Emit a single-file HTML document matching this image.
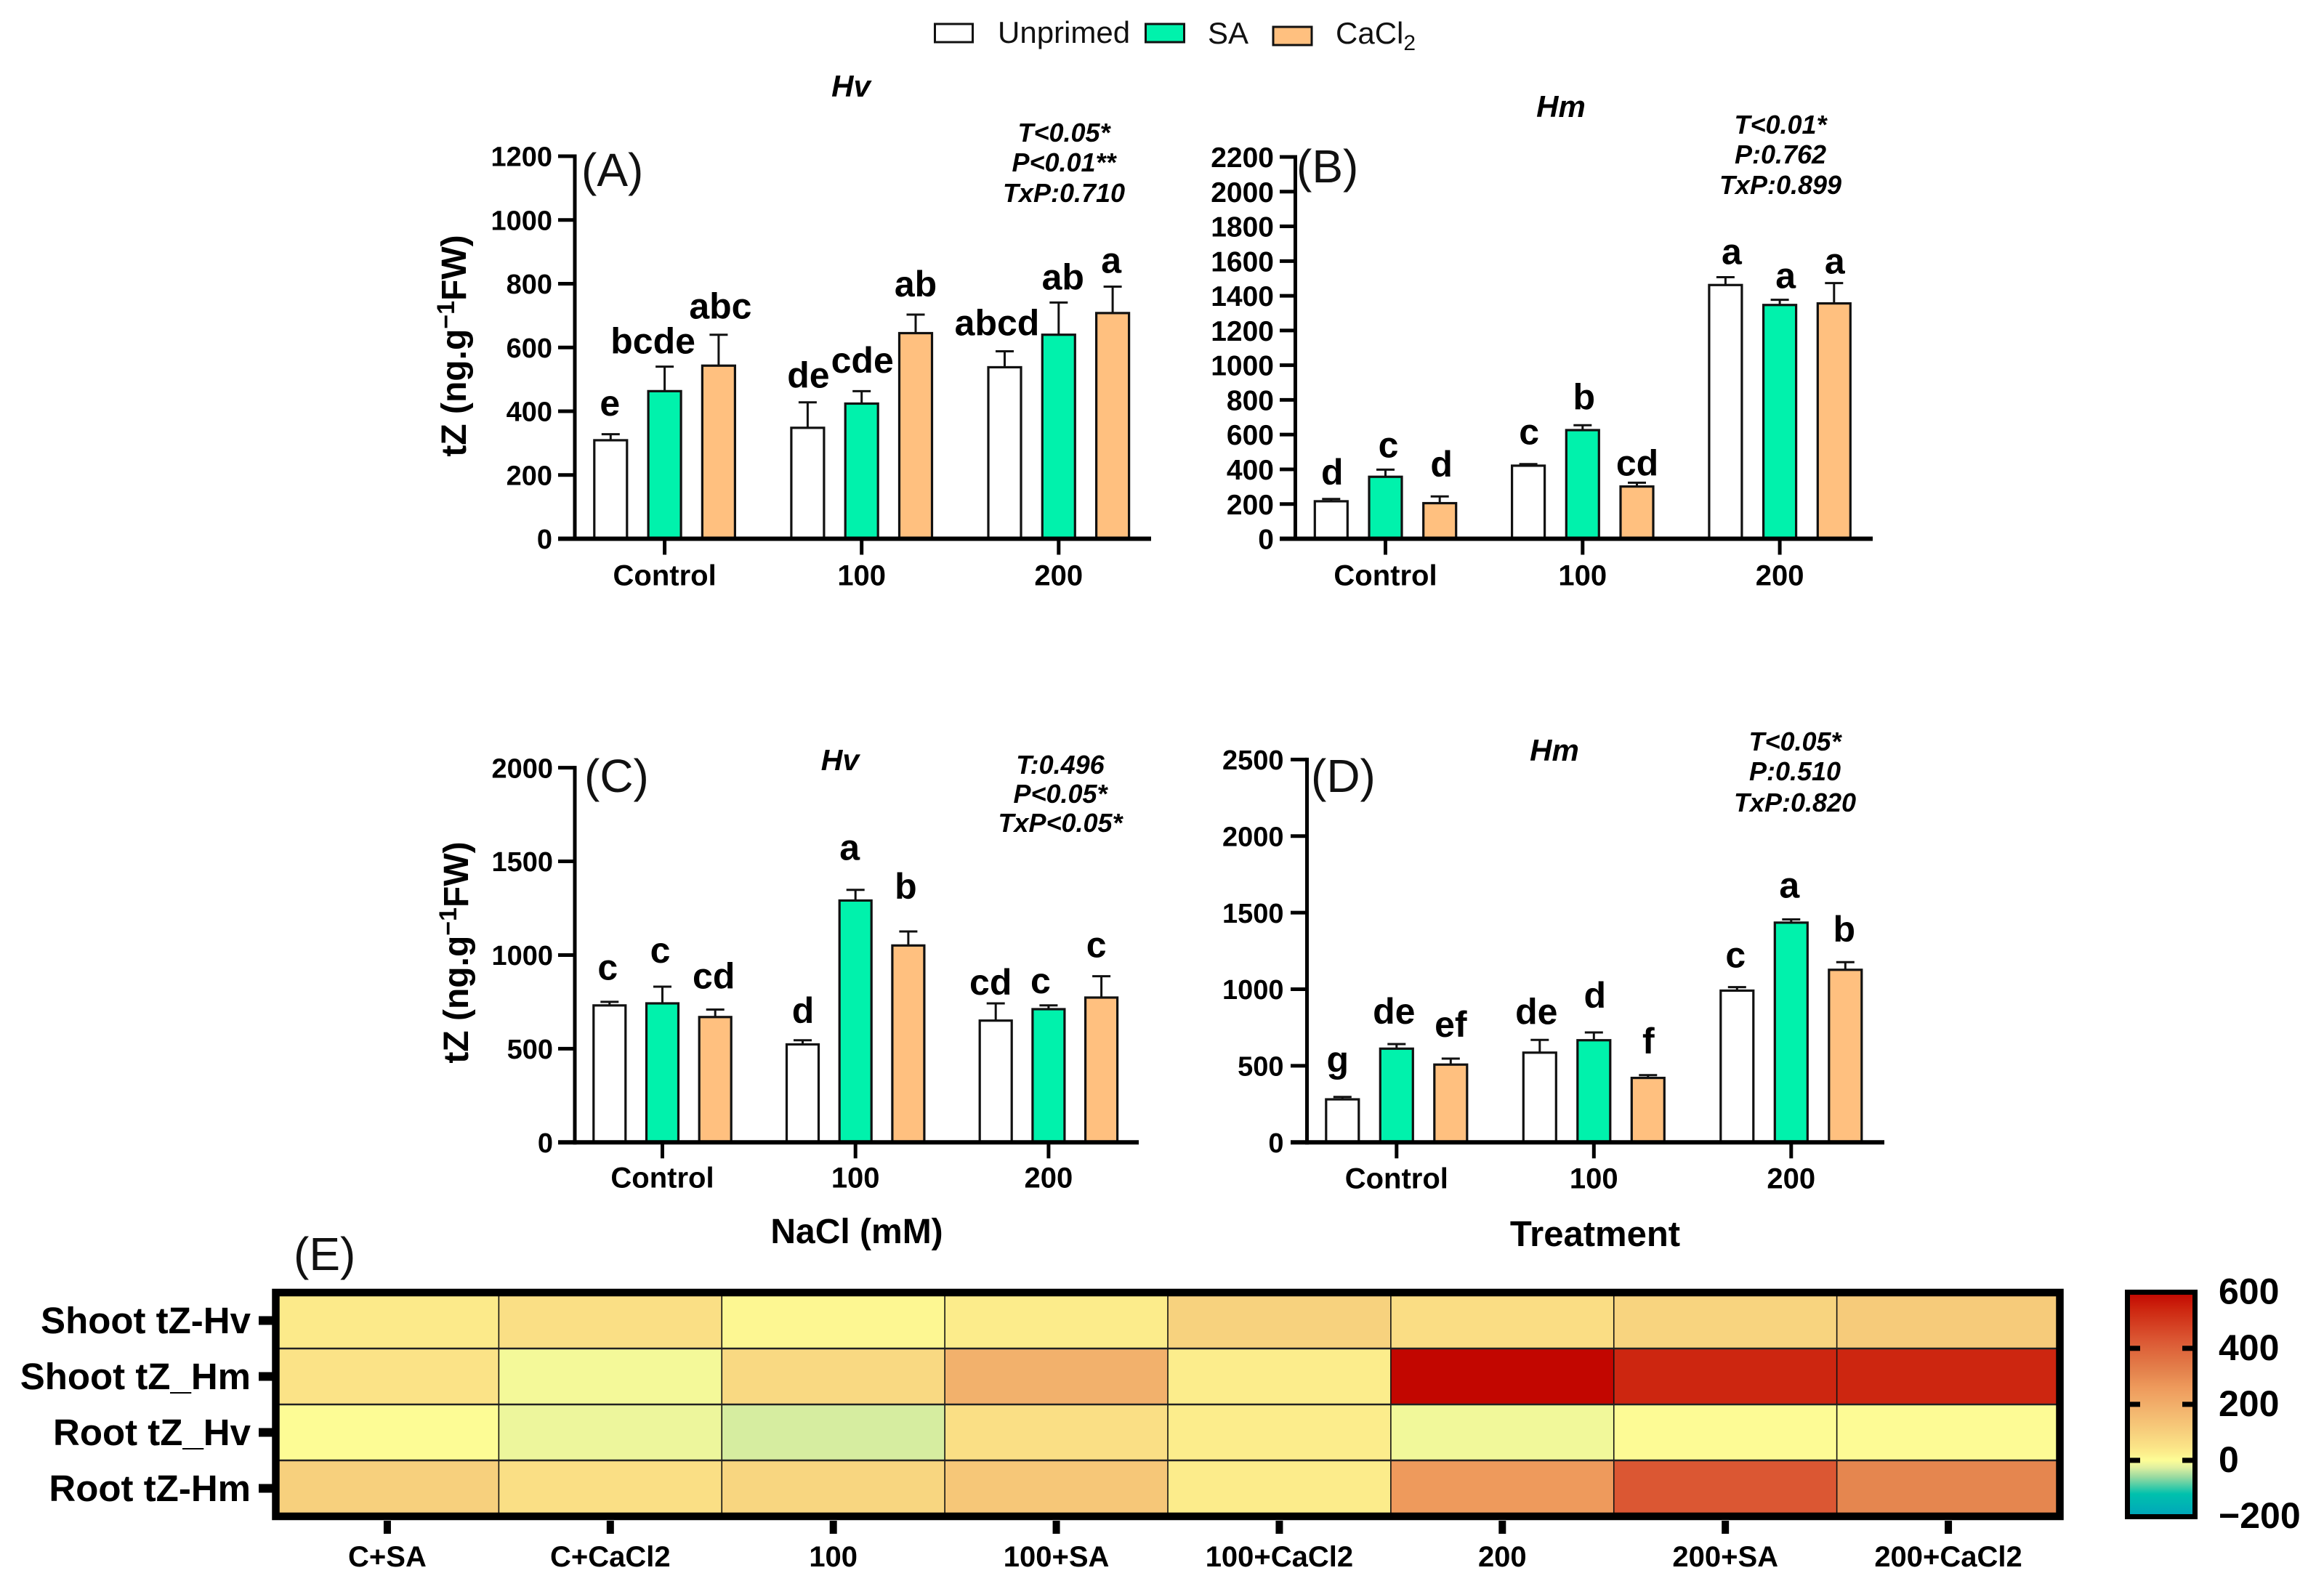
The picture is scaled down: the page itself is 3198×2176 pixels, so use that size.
<!DOCTYPE html>
<html lang="en">
<head>
<meta charset="utf-8">
<title>tZ content bar charts and heatmap</title>
<style>
html,body{margin:0;padding:0;background:#fff;}
svg{display:block;font-family:"Liberation Sans",Arial,sans-serif;}
</style>
</head>
<body>
<svg id="figure" xmlns="http://www.w3.org/2000/svg" width="3198" height="2176" viewBox="0 0 3198 2176">
  <rect x="0" y="0" width="3198" height="2176" fill="#ffffff"/>

  <g>
    <rect x="1286.5" y="33" width="52" height="25" fill="#ffffff" stroke="#111" stroke-width="3"/>
    <text x="1373" y="59" font-size="42" fill="#111">Unprimed</text>
    <rect x="1576.5" y="33" width="53" height="25" fill="#00f2ac" stroke="#111" stroke-width="3"/>
    <text x="1662" y="60" font-size="42" fill="#111">SA</text>
    <rect x="1752" y="37" width="53" height="25" fill="#ffc07f" stroke="#111" stroke-width="3"/>
    <text x="1838" y="60" font-size="42" fill="#111">CaCl<tspan dy="9" font-size="30">2</tspan></text>
  </g>

  <g font-weight="bold" font-style="italic" fill="#000" text-anchor="middle">
    <text x="1171" y="133" font-size="42">Hv</text>
    <text x="2148" y="161" font-size="42">Hm</text>
    <text x="1156" y="1060" font-size="41">Hv</text>
    <text x="2139" y="1047" font-size="42">Hm</text>
  </g>

  <g font-weight="bold" font-style="italic" font-size="36" fill="#000" text-anchor="middle">
    <text x="1464" y="195">T&lt;0.05*</text>
    <text x="1464" y="236">P&lt;0.01**</text>
    <text x="1464" y="278">TxP:0.710</text>
    <text x="2450" y="184">T&lt;0.01*</text>
    <text x="2450" y="225">P:0.762</text>
    <text x="2450" y="267">TxP:0.899</text>
    <text x="1459" y="1065">T:0.496</text>
    <text x="1459" y="1105">P&lt;0.05*</text>
    <text x="1459" y="1145">TxP&lt;0.05*</text>
    <text x="2470" y="1033">T&lt;0.05*</text>
    <text x="2470" y="1074">P:0.510</text>
    <text x="2470" y="1117">TxP:0.820</text>
  </g>

  <g font-size="64" fill="#111">
    <text x="800" y="256">(A)</text>
    <text x="1784" y="251">(B)</text>
    <text x="804" y="1090">(C)</text>
    <text x="1804" y="1090">(D)</text>
    <text x="404" y="1748">(E)</text>
  </g>

  <g font-weight="bold" fill="#000">
    <text transform="translate(641,476) rotate(-90)" text-anchor="middle" font-size="48">tZ (ng.g<tspan dy="-16" font-size="34">−1</tspan><tspan dy="16">FW)</tspan></text>
    <text transform="translate(644,1311) rotate(-90)" text-anchor="middle" font-size="48">tZ (ng.g<tspan dy="-16" font-size="34">−1</tspan><tspan dy="16">FW)</tspan></text>
    <text x="1179" y="1711" text-anchor="middle" font-size="48">NaCl (mM)</text>
    <text x="2195" y="1715" text-anchor="middle" font-size="49">Treatment</text>
  </g>

  <defs>
    <linearGradient id="colorbar-gradient" x1="0" y1="0" x2="0" y2="1"></linearGradient>
  </defs>
  <g id="charts"></g>
  <g id="heatmap"></g>
  <g id="colorbar"></g>
</svg>

<script>
// ---- shared categories ----
const categories = ["Control", "100", "200"];

// ---- panel A ----
const aUnprimed = [309, 348, 538];
const aSA = [463, 424, 640];
const aCaCl2 = [543, 645, 708];
const aUnprimedErr = [19, 80, 50];
const aSAErr = [77, 39, 101];
const aCaCl2Err = [97, 58, 83];
const aLetters = ["e", "bcde", "abc", "de", "cde", "ab", "abcd", "ab", "a"];
const aTicks = [0, 200, 400, 600, 800, 1000, 1200];

// ---- panel B ----
const bUnprimed = [216, 421, 1462];
const bSA = [357, 626, 1347];
const bCaCl2 = [205, 301, 1356];
const bUnprimedErr = [13, 9, 45];
const bSAErr = [41, 28, 30];
const bCaCl2Err = [39, 22, 117];
const bLetters = ["d", "c", "d", "c", "b", "cd", "a", "a", "a"];
const bTicks = [0, 200, 400, 600, 800, 1000, 1200, 1400, 1600, 1800, 2000, 2200];

// ---- panel C ----
const cUnprimed = [731, 523, 650];
const cSA = [742, 1291, 711];
const cCaCl2 = [669, 1051, 773];
const cUnprimedErr = [19, 22, 92];
const cSAErr = [89, 57, 20];
const cCaCl2Err = [40, 75, 114];
const cLetters = ["c", "c", "cd", "d", "a", "b", "cd", "c", "c"];
const cTicks = [0, 500, 1000, 1500, 2000];

// ---- panel D ----
const dUnprimed = [281, 586, 991];
const dSA = [612, 667, 1435];
const dCaCl2 = [508, 421, 1127];
const dUnprimedErr = [16, 83, 23];
const dSAErr = [30, 51, 21];
const dCaCl2Err = [39, 18, 50];
const dLetters = ["g", "de", "ef", "de", "d", "f", "c", "a", "b"];
const dTicks = [0, 500, 1000, 1500, 2000, 2500];

// ---- heatmap ----
const heatColumns = ["C+SA", "C+CaCl2", "100", "100+SA", "100+CaCl2", "200", "200+SA", "200+CaCl2"];
const heatRows = ["Shoot tZ-Hv", "Shoot tZ_Hm", "Root tZ_Hv", "Root tZ-Hm"];
const shootHv = [35, 60, 10, 30, 95, 65, 90, 115];
const shootHm = [50, -8, 75, 190, 28, 600, 540, 540];
const rootHv = [2, -14, -30, 60, 28, -10, 3, 3];
const rootHm = [100, 60, 85, 125, 30, 260, 430, 310];
const colorbarTicks = [600, 400, 200, 0, -200];

// ---- colour scale ----
const scaleValues = [-200, -120, -60, -25, 0, 30, 60, 100, 125, 190, 260, 310, 430, 540, 600];
const scaleColors = ["#00a5bb", "#00c1ad", "#98daa0", "#e0f0a0", "#fdfd96", "#fcec8b", "#fadf85", "#f7d07d", "#f6c778", "#f2b16c", "#ee9a5c", "#e5864f", "#db5733", "#cd2610", "#c20600"];

// ---- layout (not data) ----
const SVGNS = "http://www.w3.org/2000/svg";
const seriesFills = ["#ffffff", "#00f2ac", "#ffc07f"];
const seriesKeys = ["unprimed", "sa", "cacl2"];
const panels = [
  {id: "a", series: [aUnprimed, aSA, aCaCl2], errs: [aUnprimedErr, aSAErr, aCaCl2Err], letters: aLetters, ticks: aTicks,
   axisX: 791, xL: 768, xR: 1584, top: 215, zero: 741.5, c0: 914.6, dc: 271.1, step: 74.3, barW: 48, labelRight: 760, tickFont: 38, catDy: 64,
   gaps: [25.5, 18, 22, 20, 25.5, 25, 22, 18, 19], dxs: [-1, -16, 2.5, 1, 1, 0, -10.5, 6, -2]},
  {id: "b", series: [bUnprimed, bSA, bCaCl2], errs: [bUnprimedErr, bSAErr, bCaCl2Err], letters: bLetters, ticks: bTicks,
   axisX: 1782.5, xL: 1761, xR: 2577, top: 216, zero: 741.5, c0: 1906.5, dc: 271.3, step: 74.7, barW: 48, labelRight: 1753, tickFont: 39, catDy: 64,
   gaps: [20, 17, 27, 27.5, 22, 10, 18, 16, 13], dxs: [1.5, 4, 2.5, 1, 2, 0.5, 8.5, 8, 1]},
  {id: "c", series: [cUnprimed, cSA, cCaCl2], errs: [cUnprimedErr, cSAErr, cCaCl2Err], letters: cLetters, ticks: cTicks,
   axisX: 791, xL: 768, xR: 1567, top: 1056.6, zero: 1572.3, c0: 911.5, dc: 265.7, step: 72.7, barW: 47, labelRight: 761, tickFont: 38, catDy: 62,
   gaps: [30.5, 33, 29, 24, 41, 45, 12, 17, 26], dxs: [-2.5, -3, -2, 0.5, -8, -3.5, -7, -11, -7]},
  {id: "d", series: [dUnprimed, dSA, dCaCl2], errs: [dUnprimedErr, dSAErr, dCaCl2Err], letters: dLetters, ticks: dTicks,
   axisX: 1798.5, xL: 1776, xR: 2593, top: 1045.4, zero: 1572.3, c0: 1921.8, dc: 271.5, step: 74.5, barW: 48, labelRight: 1766.5, tickFont: 38, catDy: 63,
   gaps: [34, 28, 30, 22, 34, 30, 27, 30, 28], dxs: [-6.5, -3.5, 0, -4.5, 1.5, 0.5, -2, -2.5, -1.5]}
];
const heat = {left: 379.5, top: 1779, cellW: 306.875, cellH: 77};
const bar = {left: 2931, right: 3017, top: 1782, bottom: 2084, y600: 1778.7, yMinus200: 2087};

function el(parent, tag, attrs, text) {
  const node = document.createElementNS(SVGNS, tag);
  for (const key in attrs) node.setAttribute(key, attrs[key]);
  if (text !== undefined) node.textContent = text;
  parent.appendChild(node);
  return node;
}

function hexToRgb(hex) {
  return [parseInt(hex.slice(1, 3), 16), parseInt(hex.slice(3, 5), 16), parseInt(hex.slice(5, 7), 16)];
}

function colorFor(value) {
  const v = Math.max(scaleValues[0], Math.min(scaleValues[scaleValues.length - 1], value));
  let i = 0;
  while (i < scaleValues.length - 2 && v > scaleValues[i + 1]) i++;
  const t = (v - scaleValues[i]) / (scaleValues[i + 1] - scaleValues[i]);
  const a = hexToRgb(scaleColors[i]);
  const b = hexToRgb(scaleColors[i + 1]);
  const c = a.map((n, k) => Math.round(n + (b[k] - n) * t));
  return "rgb(" + c.join(",") + ")";
}

// ---- bar charts ----
const chartsRoot = document.getElementById("charts");
panels.forEach(function (p) {
  const g = el(chartsRoot, "g", {});
  
  

  const yMax = p.ticks[p.ticks.length - 1];
  const yScale = function (v) { return p.zero - (v / yMax) * (p.zero - p.top); };
  const catX = function (i) { return p.c0 + i * p.dc; };
  const barX = function (i, s) { return catX(i) + (s - 1) * p.step; };

  // bars, error bars, significance letters
  categories.forEach(function (cat, i) {
    p.series.forEach(function (values, s) {
      const cx = barX(i, s);
      const yTop = yScale(values[i]);
      const yErr = yScale(values[i] + p.errs[s][i]);
      const stem = el(g, "line", {x1: cx, x2: cx, y1: yTop, y2: yErr, stroke: "#111", "stroke-width": 3});
      
      
      const cap = el(g, "line", {x1: cx - 12.5, x2: cx + 12.5, y1: yErr, y2: yErr, stroke: "#111", "stroke-width": 3});
      
      
      const rect = el(g, "rect", {x: cx - p.barW / 2 + 1.5, y: yTop, width: p.barW - 3, height: p.zero - yTop, fill: seriesFills[s], stroke: "#111", "stroke-width": 3.2});
      
      
      const k = i * 3 + s;
      const letter = el(g, "text", {x: cx + p.dxs[k], y: yErr - p.gaps[k], "text-anchor": "middle", "font-size": 50, "font-weight": "bold", fill: "#000"}, p.letters[k]);
      
      
    });
  });

  // y axis
  const yAxis = el(g, "line", {x1: p.axisX, x2: p.axisX, y1: p.top - 2.5, y2: p.zero + 3, stroke: "#000", "stroke-width": 5});
  
  
  p.ticks.forEach(function (t) {
    const y = yScale(t);
    if (t !== 0) {
      const tick = el(g, "line", {x1: p.xL, x2: p.axisX, y1: y, y2: y, stroke: "#000", "stroke-width": 5});
      
      
    }
    const label = el(g, "text", {x: p.labelRight, y: y + p.tickFont * 0.36, "text-anchor": "end", "font-size": p.tickFont, "font-weight": "bold", fill: "#000"}, String(t));
    
    
  });

  // x axis
  const xAxis = el(g, "line", {x1: p.xL, x2: p.xR, y1: p.zero, y2: p.zero, stroke: "#000", "stroke-width": 6});
  
  
  categories.forEach(function (cat, i) {
    const x = catX(i);
    const tick = el(g, "line", {x1: x, x2: x, y1: p.zero, y2: p.zero + 22, stroke: "#000", "stroke-width": 5});
    
    
    const label = el(g, "text", {x: x, y: p.zero + p.catDy, "text-anchor": "middle", "font-size": 40, "font-weight": "bold", fill: "#000"}, cat);
    
    
  });
});

// ---- heatmap ----
const heatRoot = document.getElementById("heatmap");
const heatMatrix = [shootHv, shootHm, rootHv, rootHm];
const cellX = function (c) { return heat.left + c * heat.cellW; };
const cellY = function (r) { return heat.top + r * heat.cellH; };

heatMatrix.forEach(function (row, r) {
  row.forEach(function (value, c) {
    const cell = el(heatRoot, "rect", {x: cellX(c), y: cellY(r), width: heat.cellW, height: heat.cellH, fill: colorFor(value)});
    
    
  });
});
heatColumns.forEach(function (name, c) {
  if (c > 0) {
    const v = el(heatRoot, "line", {x1: cellX(c), x2: cellX(c), y1: heat.top, y2: cellY(heatRows.length), stroke: "#111", "stroke-width": 1.6});
    
    
  }
  const cx = cellX(c) + heat.cellW / 2;
  const tick = el(heatRoot, "rect", {x: cx - 5, y: 2093, width: 10, height: 18, fill: "#000"});
  
  
  const label = el(heatRoot, "text", {x: cx, y: 2156, "text-anchor": "middle", "font-size": 40, "font-weight": "bold", fill: "#000"}, name);
  
  
});
heatRows.forEach(function (name, r) {
  if (r > 0) {
    const h = el(heatRoot, "line", {x1: heat.left, x2: cellX(heatColumns.length), y1: cellY(r), y2: cellY(r), stroke: "#222", "stroke-width": 2.6});
    
    
  }
  const cy = cellY(r) + heat.cellH / 2;
  const tick = el(heatRoot, "rect", {x: 356, y: cy - 6, width: 20, height: 12, fill: "#000"});
  
  
  const label = el(heatRoot, "text", {x: 345, y: cy + 17.5, "text-anchor": "end", "font-size": 51, "font-weight": "bold", fill: "#000"}, name);
  
  
});
const heatBorder = el(heatRoot, "rect", {x: heat.left, y: heat.top, width: heat.cellW * heatColumns.length, height: heat.cellH * heatRows.length, fill: "none", stroke: "#000", "stroke-width": 10.5});



// ---- colour bar ----
const barRoot = document.getElementById("colorbar");
const barY = function (v) {
  return bar.yMinus200 - ((v + 200) / 800) * (bar.yMinus200 - bar.y600);
};
const gradient = document.getElementById("colorbar-gradient");
for (let i = scaleValues.length - 1; i >= 0; i--) {
  el(gradient, "stop", {offset: ((600 - scaleValues[i]) / 800 * 100) + "%", "stop-color": scaleColors[i]});
}
const barFill = el(barRoot, "rect", {x: bar.left, y: bar.y600, width: bar.right - bar.left, height: bar.yMinus200 - bar.y600, fill: "url(#colorbar-gradient)"});


const barBorder = el(barRoot, "rect", {x: bar.left - 3.5, y: bar.top - 3.5, width: bar.right - bar.left + 7, height: bar.bottom - bar.top + 7, fill: "none", stroke: "#000", "stroke-width": 7});


colorbarTicks.forEach(function (t) {
  const y = barY(t);
  if (t !== 600 && t !== -200) {
    const left = el(barRoot, "rect", {x: bar.left, y: y - 3.5, width: 14, height: 7, fill: "#000"});
    
    
    const right = el(barRoot, "rect", {x: bar.right - 14, y: y - 3.5, width: 14, height: 7, fill: "#000"});
    
    
  }
  const labelText = t < 0 ? "−" + Math.abs(t) : String(t);
  const label = el(barRoot, "text", {x: 3053, y: y + 16, "font-size": 50, "font-weight": "bold", fill: "#000"}, labelText);
  
  
});
</script>
</body>
</html>
